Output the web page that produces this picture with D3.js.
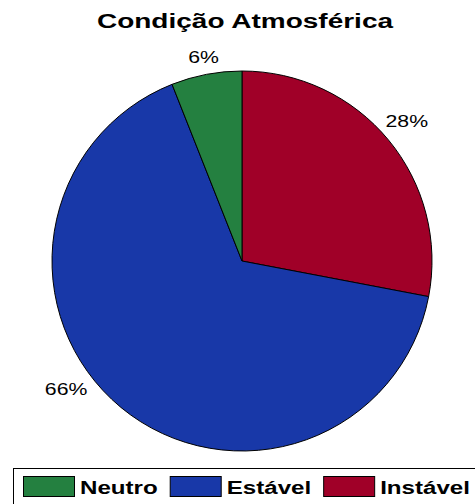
<!DOCTYPE html>
<html>
<head>
<meta charset="utf-8">
<title>Condição Atmosférica</title>
<script src="https://cdn.jsdelivr.net/npm/d3@7/dist/d3.min.js"></script>
<style>
	body { margin: 0; background: #fff; }
	text { font-family: "Liberation Sans", Arial, sans-serif; }
</style>
</head>
<body>
<svg id="chart" width="475" height="504"></svg>
<script>
	// data, clockwise from 12 o'clock
	var categories = ['Instável', 'Estável', 'Neutro'];
	var values = [28, 66, 6];
	var colors = ['#a00028', '#1838a8', '#248040'];
	var legendOrder = ['Neutro', 'Estável', 'Instável'];

	var svg = d3.select('#chart'),
		cx = 242, cy = 261, r = 190;

	// the original text is drawn wide, so stretch it horizontally
	svg.append('text')
		.attr('transform', 'translate(245,28) scale(1.4,1)')
		.attr('text-anchor', 'middle')
		.style('font-size', '20px').style('font-weight', 'bold')
		.text('Condição Atmosférica');

	var data = categories.map((c, i) => ({ name: c, value: values[i], color: colors[i] }));

	var pie = d3.pie().sort(null).value(d => d.value);
	var arc = d3.arc().innerRadius(0).outerRadius(r);
	var labelArc = d3.arc().innerRadius(210).outerRadius(210);
	// small nudges so the labels sit where the original put them
	var nudge = { 'Instável': [3, -6], 'Estável': [-42, -33], 'Neutro': [1, 3] };

	var g = svg.append('g').attr('transform', 'translate(' + cx + ',' + cy + ')');
	var arcs = pie(data);

	g.selectAll('path')
		.data(arcs)
		.enter()
		.append('path')
		.attr('d', arc)
		.attr('fill', d => d.data.color)
		.attr('stroke', '#000')
		.attr('stroke-width', 1);

	g.selectAll('text')
		.data(arcs)
		.enter()
		.append('text')
		.attr('transform', d => {
			var c = labelArc.centroid(d), n = nudge[d.data.name];
			return 'translate(' + (c[0] + n[0]) + ',' + (c[1] + n[1]) + ') scale(1.33,1)';
		})
		.attr('text-anchor', 'middle')
		.attr('dy', '0.35em')
		.style('font-size', '16px')
		.text(d => d.data.value + '%');

	// legend
	var leg = svg.append('g');
	leg.append('rect')
		.attr('x', 13.5).attr('y', 468.5)
		.attr('width', 470).attr('height', 40)
		.attr('fill', 'none').attr('stroke', '#000');

	var x = 23;
	legendOrder.forEach(name => {
		var item = leg.append('g').attr('transform', 'translate(' + x + ',476)');
		item.append('rect')
			.attr('x', 0.5).attr('y', 0.5)
			.attr('width', 51).attr('height', 20)
			.attr('fill', colors[categories.indexOf(name)])
			.attr('stroke', '#000');
		var t = item.append('text')
			.attr('transform', 'translate(57,18) scale(1.27,1)')
			.style('font-size', '19px').style('font-weight', 'bold')
			.text(name);
		x += 57 + t.node().getComputedTextLength() * 1.27 + 12;
	});
</script>
</body>
</html>
